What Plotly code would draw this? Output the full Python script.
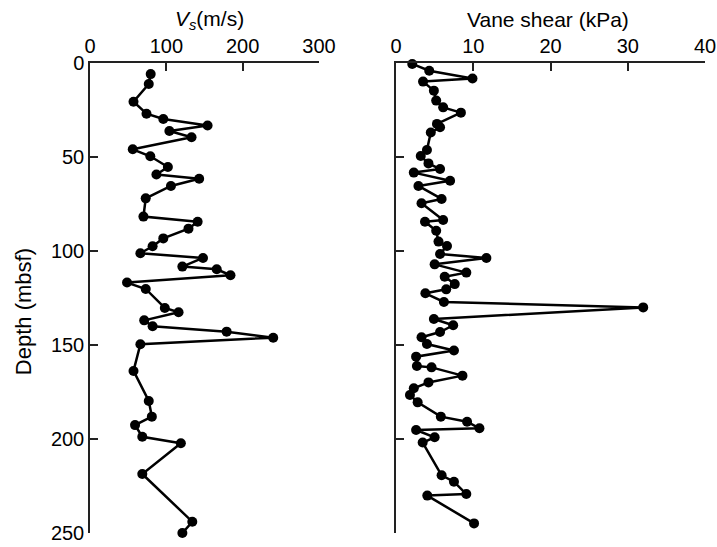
import plotly.graph_objects as go
from plotly.subplots import make_subplots

# Shear-wave velocity profile
vs_depth = [5.9, 11.2, 20.6, 27.0, 29.8, 33.2, 36.2, 39.5, 45.9, 49.6, 55.3, 59.3, 61.6,
            65.4, 72.0, 81.7, 84.4, 88.1, 93.3, 97.5, 101.2, 103.7, 108.3, 109.7, 112.9,
            116.8, 120.2, 130.3, 132.6, 136.9, 140.0, 142.9, 146.1, 149.6, 163.8, 179.8,
            188.1, 192.6, 198.8, 202.3, 218.6, 244.0, 250.0]
vs_value = [79.5, 77, 57, 74, 96, 154, 104, 133, 56, 79, 102, 87, 143,
            106, 73, 70, 141, 129, 96, 82, 66, 148, 121, 166, 184,
            48.5, 73, 98, 116, 71, 82, 179, 240, 66, 57, 77,
            81, 59, 68.5, 119, 68.5, 134, 121]

# Vane shear strength profile
vane_depth = [0.5, 4.1, 8.2, 9.9, 14.7, 20.0, 23.6, 26.4, 32.4, 34.2, 37.0, 46.3, 49.5,
              53.4, 56.4, 58.3, 62.6, 65.4, 72.3, 74.6, 83.5, 84.4, 89.2, 95.0, 97.3,
              101.6, 103.7, 107.1, 111.5, 113.7, 117.6, 120.4, 122.5, 127.1, 130.0,
              136.2, 139.5, 143.1, 145.9, 149.5, 152.9, 156.2, 161.2, 161.9, 166.3,
              169.9, 173.0, 176.6, 180.5, 188.1, 190.8, 194.3, 195.2, 199.1, 201.9,
              219.3, 222.7, 229.3, 230.1, 244.9]
vane_value = [2.1, 4.3, 9.9, 3.5, 4.9, 5.2, 6.1, 8.4, 5.3, 5.7, 4.5, 4.0, 3.2,
              4.2, 5.7, 2.3, 7.0, 2.9, 5.9, 3.3, 6.1, 3.75, 5.2, 5.5, 6.6,
              5.7, 11.7, 5.0, 9.1, 6.3, 7.6, 6.5, 3.8, 6.2, 32.0,
              4.9, 7.4, 5.7, 3.3, 4.0, 7.5, 2.6, 2.7, 4.6, 8.6,
              4.2, 2.3, 1.8, 2.8, 5.8, 9.2, 10.8, 2.6, 5.0, 3.45,
              5.9, 7.5, 9.1, 4.05, 10.1]

vs_ticks = [0, 100, 200, 300]
vane_ticks = [0, 10, 20, 30, 40]
depth_ticks = [0, 50, 100, 150, 200, 250]

FONT = "Arial, Liberation Sans, Helvetica, sans-serif"

fig = make_subplots(rows=1, cols=2, shared_yaxes=False, horizontal_spacing=0.125)

line_style = dict(color="black", width=2.5)
marker_style = dict(color="black", size=10)

fig.add_trace(go.Scatter(x=vs_value, y=vs_depth, mode="lines+markers",
                         line=line_style, marker=marker_style,
                         showlegend=False, cliponaxis=False), row=1, col=1)
fig.add_trace(go.Scatter(x=vane_value, y=vane_depth, mode="lines+markers",
                         line=line_style, marker=marker_style,
                         showlegend=False, cliponaxis=False), row=1, col=2)

axis_common = dict(showline=True, linecolor="#222", linewidth=1.5, ticks="inside",
                   ticklen=8, tickwidth=1.5, tickcolor="#222", showgrid=False,
                   zeroline=False, automargin=False,
                   tickfont=dict(family=FONT, size=20, color="black"))

fig.update_xaxes(**axis_common, side="top", range=[0, 300], tickvals=vs_ticks,
                 domain=[0, 0.3724], row=1, col=1)
fig.update_xaxes(**axis_common, side="top", range=[0, 40], tickvals=vane_ticks,
                 domain=[0.4976, 1], row=1, col=2)
fig.update_yaxes(**axis_common, range=[250, 0], tickvals=depth_ticks, row=1, col=1)
fig.update_yaxes(**axis_common, range=[250, 0], tickvals=depth_ticks,
                 showticklabels=False, row=1, col=2)

title_font = dict(family=FONT, size=21, color="black")
fig.add_annotation(text="<i>V<sub>s</sub></i>(m/s)", xref="paper", yref="paper",
                   x=0.1935, y=1.0915, xanchor="center", yanchor="middle",
                   showarrow=False, font=title_font)
fig.add_annotation(text="Vane shear (kPa)", xref="paper", yref="paper",
                   x=0.7447, y=1.0915, xanchor="center", yanchor="middle",
                   showarrow=False, font=title_font)
fig.add_annotation(text="Depth (mbsf)", xref="paper", yref="paper",
                   x=-0.109, y=0.472, xanchor="center", yanchor="middle",
                   textangle=-90, showarrow=False, font=dict(family=FONT, size=22, color="black"))

fig.update_layout(width=717, height=547, margin=dict(l=90, r=12, t=63, b=14),
                  plot_bgcolor="white", paper_bgcolor="white",
                  font=dict(family=FONT, color="black"))

fig.write_html("out.html")
